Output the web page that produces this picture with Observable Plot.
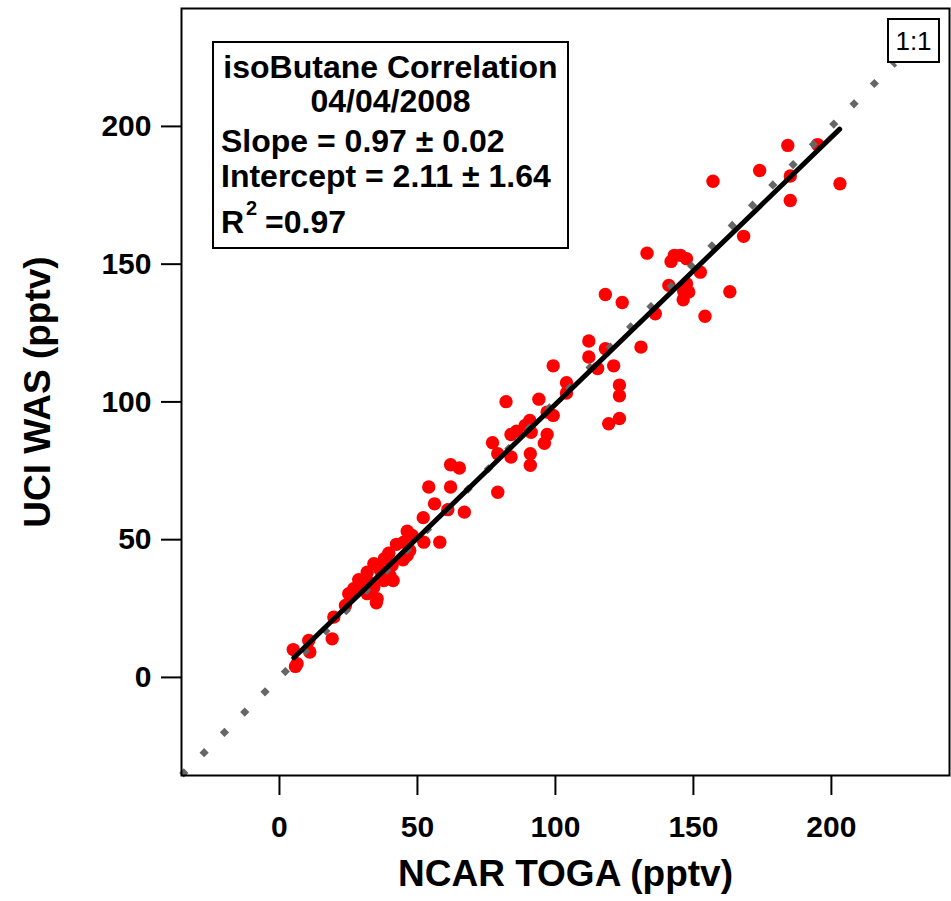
<!DOCTYPE html>
<html><head><meta charset="utf-8">
<script src="https://cdn.jsdelivr.net/npm/d3@7"></script>
<script src="https://cdn.jsdelivr.net/npm/@observablehq/plot@0.6"></script>
<style>html,body{margin:0;padding:0;background:#fff;overflow:hidden}</style>
</head><body><div id="chart"></div>
<script>
// NCAR TOGA (x) vs UCI WAS (y), pptv
const ncarToga = [184.2,195.0,174.0,157.1,185.1,203.1,185.1,168.2,152.5,163.2,154.2,133.2,143.1,145.3,147.5,141.9,141.1,147.5,146.5,148.3,146.3,118.1,124.2,136.2,112.1,131.0,118.1,112.1,115.3,121.1,123.2,123.2,123.2,119.3,
  99.2,104.0,104.0,82.1,94.0,97.0,99.2,90.7,89.1,91.2,85.9,83.9,97.0,96.0,77.2,79.1,83.9,90.9,90.9,62.0,65.2,62.0,79.1,61.0,67.0,54.1,56.2,52.1,46.3,48.1,52.3,58.1,42.4,45.0,47.2,46.3,44.8,39.6,38.0,34.2,40.8,36.6,31.8,40.0,41.2,37.8,28.7,32.4,34.2,26.9,25.1,35.4,31.8,35.1,23.9,19.7,19.1,10.6,11.0,5.0,6.4,5.8,29.3];
const uciWas = [193.1,193.4,184.0,180.1,182.0,179.2,173.1,160.1,147.1,140.0,131.1,154.0,153.2,153.2,152.0,151.0,142.3,142.9,140.2,139.9,137.1,139.0,136.1,132.0,122.1,119.9,119.3,116.3,112.1,113.1,106.1,102.2,94.0,92.1,
  113.1,107.0,103.2,100.1,101.0,96.3,95.1,93.3,91.5,89.0,89.4,88.2,88.2,85.0,85.2,81.2,80.0,81.2,77.0,77.2,76.0,69.1,67.2,60.9,60.0,69.1,63.0,58.0,53.1,51.5,49.1,49.1,48.3,49.1,46.1,44.3,42.7,45.1,43.1,41.3,40.7,38.8,38.2,37.0,35.2,35.2,35.5,34.6,32.8,32.2,30.4,28.6,30.4,27.1,26.1,21.9,14.0,13.4,9.2,10.1,5.0,4.0,32.2];
const axisTicks = [0, 50, 100, 150, 200];
const oneToOneX = [-35.5, 223];
const fitX = [5.2, 203.0];
const fitY = [7.15, 199.0];
const statsLines = ["isoButane Correlation", "04/04/2008", "Slope = 0.97 \u00b1 0.02", "Intercept = 2.11 \u00b1 1.64"];
const r2Text = ["R", "2", "=0.97"];
const xTitle = "NCAR TOGA (pptv)";
const yTitle = "UCI WAS (pptv)";

const F = "'Liberation Sans', Arial, Helvetica, sans-serif";
const points = ncarToga.map((x, i) => ({x, y: uciWas[i]}));
const oneToOne = oneToOneX.map(v => ({x: v, y: v}));
const fit = fitX.map((x, i) => ({x, y: fitY[i]}));

const plot = Plot.plot({
  width: 951, height: 901,
  marginLeft: 181, marginTop: 8, marginRight: 2, marginBottom: 126,
  x: {domain: [-35.5, 242.8], label: null},
  y: {domain: [-35.6, 242.8], label: null},
  style: {fontFamily: F, background: "#fff", color: "#000", overflow: "visible"},
  marks: [
    Plot.dot(points, {x: "x", y: "y", r: 6.7, fill: "#ff0000"}),
    Plot.line(oneToOne, {x: "x", y: "y", stroke: "#666666", strokeWidth: 6.5, strokeDasharray: "6.5,22.2", strokeLinecap: "butt"}),
    Plot.line(fit, {x: "x", y: "y", stroke: "#000", strokeWidth: 5}),
    Plot.frame({stroke: "#000", strokeWidth: 2}),
    Plot.axisX({ticks: axisTicks, tickSize: 20, tickPadding: 20, fontSize: 30, fontWeight: "bold", strokeWidth: 2, label: null}),
    Plot.axisY({ticks: axisTicks, tickSize: 20, tickPadding: 10, fontSize: 30, fontWeight: "bold", strokeWidth: 2, label: null}),
    Plot.text([xTitle], {frameAnchor: "bottom", dy: 110, lineAnchor: "bottom", textAnchor: "middle", fontSize: 37, fontWeight: "bold", fill: "#000"}),
    Plot.text([yTitle], {frameAnchor: "left", dx: -132, rotate: -90, lineAnchor: "bottom", textAnchor: "middle", fontSize: 37, fontWeight: "bold", fill: "#000"})
  ]
});
document.getElementById("chart").appendChild(plot);

// annotation boxes
const svg = d3.select(plot);
const g = svg.append("g").attr("font-family", F).attr("fill", "#000").attr("text-anchor", "start");
g.append("rect").attr("x", 213).attr("y", 42).attr("width", 355).attr("height", 206)
  .attr("fill", "#fff").attr("stroke", "#000").attr("stroke-width", 2);
const lineY = [78, 112, 152, 187];
statsLines.forEach((t, i) => {
  g.append("text").text(t)
    .attr("x", i < 2 ? 390.5 : 221).attr("y", lineY[i])
    .attr("text-anchor", i < 2 ? "middle" : "start")
    .attr("font-size", 32).attr("font-weight", "bold");
});
g.append("text").text(r2Text[0]).attr("x", 221).attr("y", 233).attr("text-anchor", "start").attr("font-size", 32).attr("font-weight", "bold");
g.append("text").text(r2Text[1]).attr("x", 246).attr("y", 215).attr("text-anchor", "start").attr("font-size", 20).attr("font-weight", "bold");
g.append("text").text(r2Text[2]).attr("x", 265).attr("y", 233).attr("text-anchor", "start").attr("font-size", 32).attr("font-weight", "bold");

g.append("rect").attr("x", 888).attr("y", 19).attr("width", 51).attr("height", 43)
  .attr("fill", "#fff").attr("stroke", "#000").attr("stroke-width", 2);
g.append("text").text("1:1").attr("x", 913.5).attr("y", 50).attr("text-anchor", "middle")
  .attr("font-size", 26).attr("font-weight", "normal");
</script>
</body></html>
